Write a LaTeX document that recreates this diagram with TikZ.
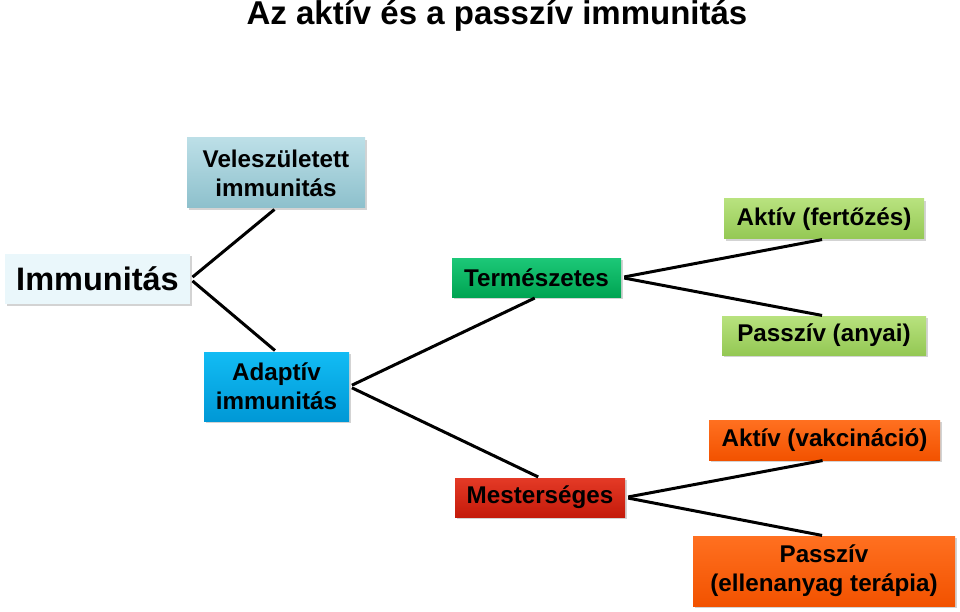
\documentclass[tikz,border=0pt]{standalone}
\usepackage{fontspec}
\setmainfont{Liberation Sans}
\usetikzlibrary{shadows}
\definecolor{imcyan}{HTML}{EAF7FB}
\definecolor{imtealtop}{HTML}{BCDFE7}
\definecolor{imtealbot}{HTML}{8DC0CC}
\definecolor{imbluetop}{HTML}{12BCF4}
\definecolor{imbluebot}{HTML}{0098D6}
\definecolor{imgreentop}{HTML}{1CC878}
\definecolor{imgreenbot}{HTML}{00A452}
\definecolor{imredtop}{HTML}{E43A26}
\definecolor{imredbot}{HTML}{C41A0A}
\definecolor{imlimetop}{HTML}{B8E27E}
\definecolor{imlimebot}{HTML}{94C854}
\definecolor{imorangetop}{HTML}{FF7020}
\definecolor{imorangebot}{HTML}{F25200}

\begin{document}
\begin{tikzpicture}[
  x=1pt, y=-1pt,
  every node/.style={font=\fontsize{24.2}{29}\selectfont\bfseries},
  catbox/.style={rectangle, inner sep=0pt, align=center,
    drop shadow={shadow xshift=2pt, shadow yshift=-2pt, opacity=0.35}},
  link/.style={line width=3pt, shorten <=3pt, shorten >=2pt},
]
\useasboundingbox (0,0) rectangle (960,612);

\node[anchor=base, inner sep=0pt] (title) at (497,25) {\fontsize{33}{36}\selectfont Az aktív és a passzív immunitás};

\node[catbox, fill=imcyan, minimum width=185pt, minimum height=50pt,
  font=\fontsize{32.5}{36}\selectfont\bfseries] (imm) at (97.5,279) {Immunitás};
\node[catbox, top color=imtealtop, bottom color=imtealbot, minimum width=178pt, minimum height=70pt] (vel) at (276,173) {Veleszületett\\immunitás};
\node[catbox, top color=imbluetop, bottom color=imbluebot, minimum width=145pt, minimum height=69pt] (ada) at (276.5,386.5) {Adaptív\\immunitás};
\node[catbox, top color=imgreentop, bottom color=imgreenbot, minimum width=169pt, minimum height=39pt] (ter) at (536.5,277.5) {Természetes};
\node[catbox, top color=imredtop, bottom color=imredbot, minimum width=170pt, minimum height=39pt] (mes) at (540,497.5) {Mesterséges};

\node[catbox, top color=imlimetop, bottom color=imlimebot, minimum width=200pt, minimum height=40pt] (akf) at (824,219) {Aktív (fertőzés)};
\node[catbox, top color=imlimetop, bottom color=imlimebot, minimum width=204pt, minimum height=39pt] (paa) at (824,335.5) {Passzív (anyai)};
\node[catbox, top color=imorangetop, bottom color=imorangebot, minimum width=231pt, minimum height=40pt] (akv) at (824.5,440) {Aktív (vakcináció)};
\node[catbox, top color=imorangetop, bottom color=imorangebot, minimum width=262pt, minimum height=70pt] (pae) at (824,571) {Passzív\\(ellenanyag terápia)};

\draw[link] (imm.east) -- (vel.south);
\draw[link] (imm.east) -- (ada.north);
\draw[link] (ada.east) -- (ter.south);
\draw[link] (ada.east) -- (mes.north);
\draw[link] (ter.east) -- (akf.south);
\draw[link] (ter.east) -- (paa.north);
\draw[link] (mes.east) -- (akv.south);
\draw[link] (mes.east) -- (pae.north);
\end{tikzpicture}
\end{document}
